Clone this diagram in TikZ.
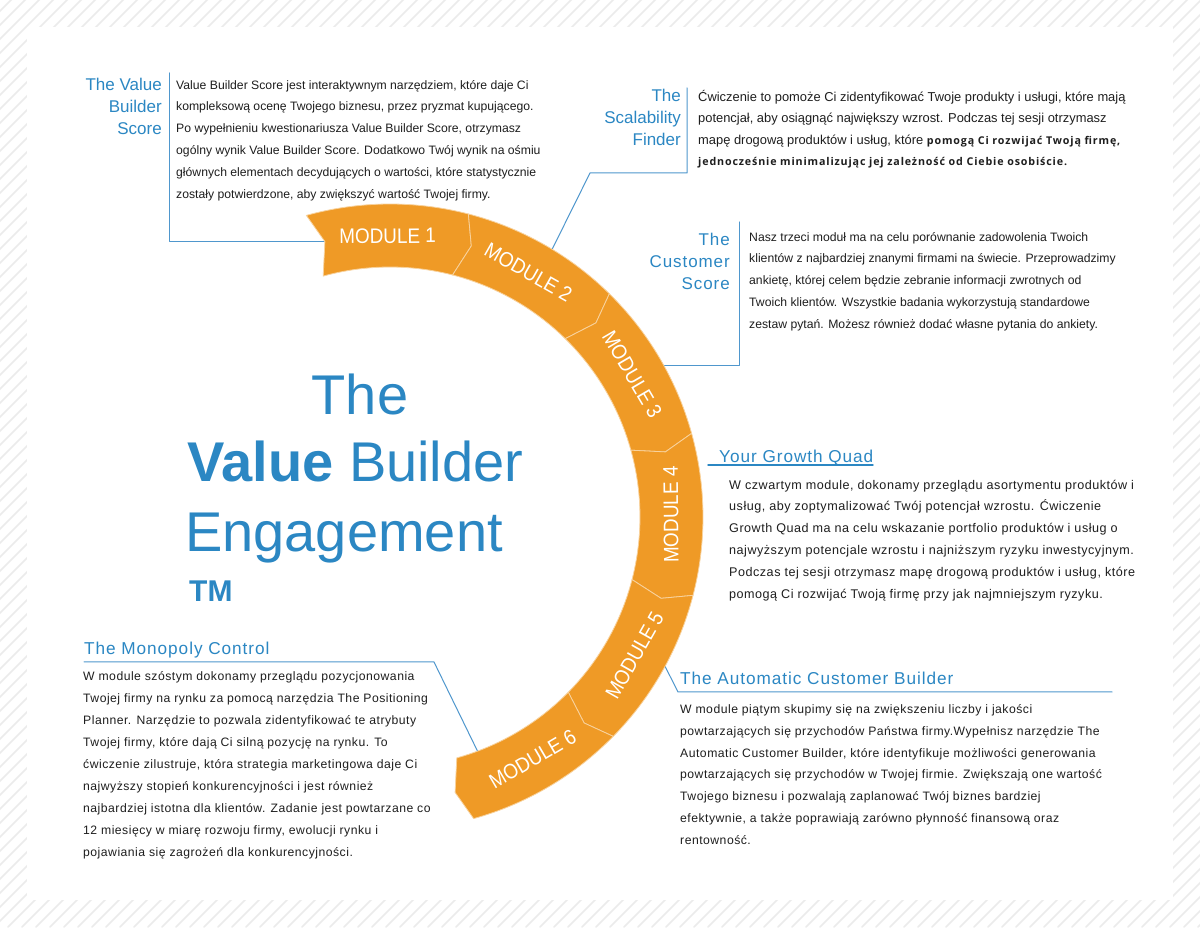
\documentclass[tikz,border=0pt]{standalone}
\usepackage{fontspec}
\usepackage{graphicx}
\setmainfont{Liberation Sans}
\newfontfamily\widefont{Liberation Sans}[LetterSpace=4]
\newfontfamily\wideheadfont{Liberation Sans}[LetterSpace=5.5]
\newfontfamily\notefont{Open Sans}[LetterSpace=8]
\definecolor{vbblue}{HTML}{2B87C3}
\definecolor{vborange}{HTML}{EF9A26}
\definecolor{lineblue}{HTML}{4F97CD}
\definecolor{ink}{HTML}{1E1E1E}
\definecolor{stripe}{HTML}{EBEBEB}
\newcommand\emphnote[1]{{\notefont\bfseries\fontsize{10.7}{21.8}\selectfont#1}}
\begin{document}
\begin{tikzpicture}[x=1pt, y=1pt, line join=round, line cap=round,
  head/.style={text=vbblue, inner sep=0pt, font=\fontsize{17}{22}\selectfont},
  widehead/.style={head, anchor=base west, font=\wideheadfont\fontsize{17.2}{22}\selectfont},
  body/.style={text=ink, inner sep=0pt, anchor=north west, align=left, font=\fontsize{12.2}{21.8}\selectfont},
  widebody/.style={body, font=\widefont\fontsize{12.2}{21.8}\selectfont},
  big/.style={text=vbblue, inner sep=0pt, anchor=base west, font=\fontsize{56}{60}\selectfont},
  link/.style={draw=lineblue, line width=1pt},
  segment/.style={fill=vborange, draw=vborange!45!white, line width=.8pt},
  modlabel/.style={text=white, inner sep=0pt, font=\fontsize{21}{24}\selectfont}]
  \useasboundingbox (0,0) rectangle (1200,927);
  \fill[white] (0,0) rectangle (1200,927);
  \begin{scope}
    \clip (0,0) rectangle (1200,927);
    \foreach \i in {-930,-916,...,1200} \draw[stripe, line width=1.6pt] (\i,0) -- ++(930,930);
  \end{scope}
  \fill[white] (27,27) rectangle (1173,900);

  \node[big, anchor=base] (bigThe) at (360,512) {The};
  \node[big] (bigValue) at (187,445) {\textbf{Value} Builder};
  \node[big] (bigEng) at (185,375) {Engagement};
  \node[big, font=\bfseries\fontsize{30}{32}\selectfont] (bigTM) at (189,325) {TM};

  \node[head, anchor=north east, align=right] (vbsHead) at (162,852.4) {\strut The Value\\Builder\\Score};
  \node[body] (vbsText) at (176,853.3) {\strut Value Builder Score jest interaktywnym narzędziem, które daje Ci\\kompleksową ocenę Twojego biznesu, przez pryzmat kupującego.\\Po wypełnieniu kwestionariusza Value Builder Score, otrzymasz\\ogólny wynik Value Builder Score. Dodatkowo Twój wynik na ośmiu\\głównych elementach decydujących o wartości, które statystycznie\\zostały potwierdzone, aby zwiększyć wartość Twojej firmy.};

  \node[head, anchor=north east, align=right] (scaleHead) at (681,841.4) {\strut The\\Scalability\\Finder};
  \node[body, font=\fontsize{12.9}{21.4}\selectfont] (scaleText) at (698,840.9) {\strut Ćwiczenie to pomoże Ci zidentyfikować Twoje produkty i usługi, które mają\\potencjał, aby osiągnąć największy wzrost. Podczas tej sesji otrzymasz\\mapę drogową produktów i usług, które \emphnote{pomogą Ci rozwijać Twoją firmę,}\\\emphnote{jednocześnie minimalizując jej zależność od Ciebie osobiście.}};

  \node[head, anchor=north east, align=right, font=\wideheadfont\fontsize{17}{22}\selectfont] (custHead) at (730,697.4) {\strut The\\Customer\\Score};
  \node[body] (custText) at (749,701.3) {\strut Nasz trzeci moduł ma na celu porównanie zadowolenia Twoich\\klientów z najbardziej znanymi firmami na świecie. Przeprowadzimy\\ankietę, której celem będzie zebranie informacji zwrotnych od\\Twoich klientów. Wszystkie badania wykorzystują standardowe\\zestaw pytań. Możesz również dodać własne pytania do ankiety.};

  \node[widehead] (quadHead) at (719,464) {Your Growth Quad};
  \node[widebody, font=\widefont\fontsize{12.6}{21.8}\selectfont] (quadText) at (729,453.3) {\strut W czwartym module, dokonamy przeglądu asortymentu produktów i\\usług, aby zoptymalizować Twój potencjał wzrostu. Ćwiczenie\\Growth Quad ma na celu wskazanie portfolio produktów i usług o\\najwyższym potencjale wzrostu i najniższym ryzyku inwestycyjnym.\\Podczas tej sesji otrzymasz mapę drogową produktów i usług, które\\pomogą Ci rozwijać Twoją firmę przy jak najmniejszym ryzyku.};

  \node[widehead] (autoHead) at (680,242) {The Automatic Customer Builder};
  \node[widebody] (autoText) at (680,229) {\strut W module piątym skupimy się na zwiększeniu liczby i jakości\\powtarzających się przychodów Państwa firmy.Wypełnisz narzędzie The\\Automatic Customer Builder, które identyfikuje możliwości generowania\\powtarzających się przychodów w Twojej firmie. Zwiększają one wartość\\Twojego biznesu i pozwalają zaplanować Twój biznes bardziej\\efektywnie, a także poprawiają zarówno płynność finansową oraz\\rentowność.};

  \node[widehead] (monoHead) at (84,272) {The Monopoly Control};
  \node[widebody, font=\widefont\fontsize{12.2}{22}\selectfont] (monoText) at (83,262) {\strut W module szóstym dokonamy przeglądu pozycjonowania\\Twojej firmy na rynku za pomocą narzędzia The Positioning\\Planner. Narzędzie to pozwala zidentyfikować te atrybuty\\Twojej firmy, które dają Ci silną pozycję na rynku. To\\ćwiczenie zilustruje, która strategia marketingowa daje Ci\\najwyższy stopień konkurencyjności i jest również\\najbardziej istotna dla klientów. Zadanie jest powtarzane co\\12 miesięcy w miarę rozwoju firmy, ewolucji rynku i\\pojawiania się zagrożeń dla konkurencyjności.};

  \begin{scope}[shift={(390,410)}]
    \coordinate (m1tail) at (103.3:283);
    \coordinate (m2out) at (58.8:313);
    \coordinate (m3out) at (29:313);
    \coordinate (m5out) at (-28.5:313);
    \coordinate (m6in) at (-69.5:250);
  \end{scope}
  \coordinate (vbsTop) at (169,854);
  \coordinate (scaleTop) at (687,839);
  \coordinate (scaleBend) at (590,754);
  \coordinate (custTop) at (739,705);
  \coordinate (quadStart) at (708,462);
  \coordinate (quadEnd) at (873,462);
  \coordinate (autoBend) at (678,235);
  \coordinate (autoEnd) at (1112,235);
  \coordinate (monoStart) at (84,265);
  \coordinate (monoBend) at (434,265);

  \draw[link] (vbsTop) |- (m1tail);
  \draw[link] (scaleTop) |- (scaleBend) -- (m2out);
  \draw[link] (custTop) |- (m3out);
  \draw[link, draw=vbblue, line width=1.4pt] (quadStart) -- (quadEnd);
  \draw[link] (m5out) -- (autoBend) -- (autoEnd);
  \draw[link] (monoStart) -- (monoBend) -- (m6in);

  \begin{scope}[shift={(390,410)}]
    \foreach \n in {1,...,6}{
      \pgfmathsetmacro\sa{105.5-30*(\n-1)}
      \pgfmathsetmacro\sb{\sa-30}
      \pgfmathsetmacro\sm{\sa-15}
      \pgfmathsetmacro\rot{\n<4 ? \sm-90 : \sm+90}
      \draw[segment] (\sa:313) arc[start angle=\sa, end angle=\sb, radius=313] -- ({\sb-2.2}:283) -- (\sb:250) arc[start angle=\sb, end angle=\sa, radius=250] -- ({\sa-2.2}:283) -- cycle;
      \node[modlabel, rotate=\rot] (mod\n) at (\sm:281) {\scalebox{0.9}[1]{MODULE \n}};
    }
  \end{scope}
\end{tikzpicture}
\end{document}
